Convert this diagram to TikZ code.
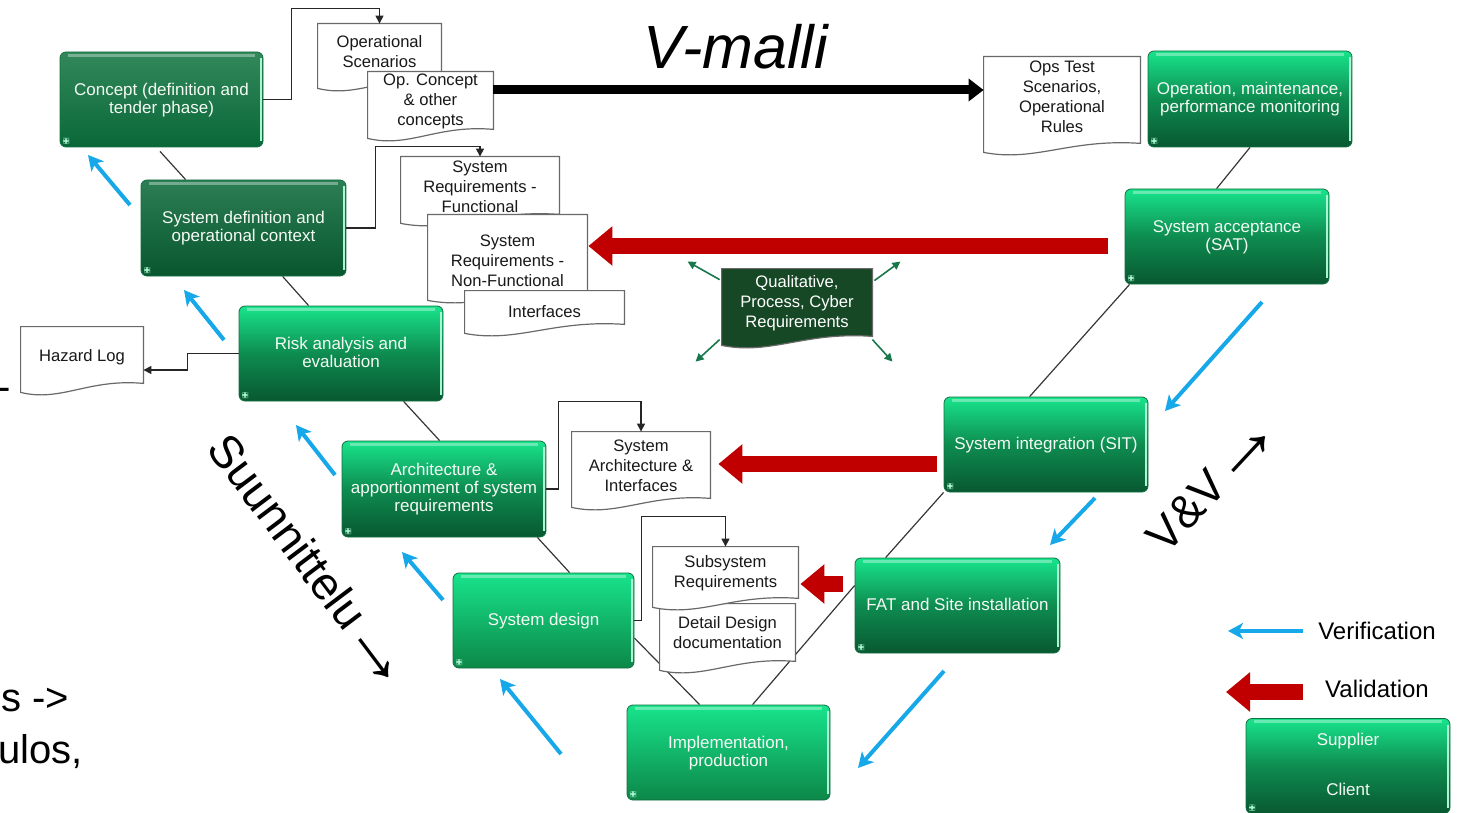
\documentclass[tikz,border=0pt]{standalone}
\usepackage{fontspec}
\setmainfont{Liberation Sans}
\usetikzlibrary{arrows.meta,calc,backgrounds}
\definecolor{vred}{RGB}{192,0,0}
\definecolor{vblue}{RGB}{22,168,232}
\definecolor{gtop}{RGB}{24,228,140}
\definecolor{gmid}{RGB}{14,140,80}
\definecolor{gbot}{RGB}{8,88,48}
\definecolor{glow}{RGB}{12,135,72}
\definecolor{cdtop}{RGB}{50,136,90}
\definecolor{cdbot}{RGB}{10,104,56}
\definecolor{sdtop}{RGB}{44,126,84}
\definecolor{sdbot}{RGB}{8,86,46}
\definecolor{gedge}{RGB}{20,110,65}
\definecolor{gshine}{RGB}{170,245,210}
\definecolor{boxtext}{RGB}{245,250,245}
\definecolor{qfill}{RGB}{22,72,38}
\definecolor{qarr}{RGB}{25,120,75}
\definecolor{docline}{RGB}{105,105,105}
\definecolor{vlinec}{RGB}{55,55,55}
\newcommand\bxfont{\fontsize{8.5}{9}\selectfont}
\newcommand\dcfont{\fontsize{8.3}{10}\selectfont}
\newcommand\bigarrow{\raisebox{-2.5pt}{\fontsize{40}{40}\selectfont →}}
\newcommand\docbox[8]{%
  \node[docframe, minimum width=#5, minimum height=#6] (#1) at (#3,#4) {};
  \path[#2] (#1.north west) -- (#1.north east) -- ([yshift=4.5pt]#1.south east)
    .. controls ($(#1.south west)!0.55!(#1.south east)+(0,7pt)$) and ($(#1.south west)!0.33!(#1.south east)+(0,-5pt)$) .. (#1.south west) -- cycle;
  \node[#2T] (#1-t) at (#3,#7) {#8};
}
\begin{document}
\begin{tikzpicture}[x=0.5pt,y=-0.5pt,
  gbase/.style={rounded corners=3pt, draw=gedge, line width=0.4pt, text=boxtext, align=center,
    font=\bxfont, inner sep=2pt, minimum width=102pt, minimum height=47.5pt, text depth=1.2pt,
    path picture={
      \draw[gshine, line width=1pt] ([xshift=-1.2pt,yshift=-3pt]path picture bounding box.north east) -- ([xshift=-1.2pt,yshift=3pt]path picture bounding box.south east);
      \draw[white, opacity=0.35, line width=1.5pt] ([shift={(4pt,-1.6pt)}]path picture bounding box.north west) -- ([shift={(-4pt,-1.6pt)}]path picture bounding box.north east);
      \fill[gshine] ([shift={(1.5pt,1.5pt)}]path picture bounding box.south west) rectangle ++(3pt,3pt);
    }},
  gbright/.style={gbase, top color=gtop, bottom color=gbot, middle color=gmid},
  glight/.style={gbase, top color=gtop, bottom color=glow, middle color=gtop!50!glow},
  gconcept/.style={gbase, top color=cdtop, bottom color=cdbot},
  gsysdef/.style={gbase, top color=sdtop, bottom color=sdbot},
  docframe/.style={draw=none, fill=none, inner sep=0pt, rectangle},
  doc/.style={draw=docline, line width=0.6pt, fill=white},
  docT/.style={font=\dcfont, align=center, text=black!90, inner sep=0pt},
  qdoc/.style={draw=docline, line width=0.6pt, fill=qfill},
  qdocT/.style={font=\dcfont, align=center, text=white, inner sep=0pt},
  vlink/.style={draw=vlinec, line width=0.6pt},
  elbow/.style={draw=black!85, line width=0.6pt, -{Triangle[length=4pt,width=4pt]}},
  varrow/.style={draw=vblue, line width=2pt, -{Stealth[length=7.5pt,width=8pt,inset=2pt]}},
  redarrow/.style={draw=vred, line width=8pt, -{Triangle[length=12pt,width=19pt]}},
  blkarrow/.style={draw=black, line width=4.5pt, -{Triangle[length=7.5pt,width=11pt]}},
  qarrow/.style={draw=qarr, line width=0.8pt, -{Triangle[length=4pt,width=4pt]}},
  bigtext/.style={inner sep=0pt, text=black}
]
\useasboundingbox (0,0) rectangle (1463,813);

% ---------- green process boxes ----------
\node[gconcept, minimum width=101.5pt] (concept) at (161.5,99.5) {Concept (definition and\\tender phase)};
\node[gsysdef, minimum width=102.5pt, minimum height=48pt] (sysdef) at (243.5,228) {System definition and\\operational context};
\node[gbright] (risk) at (341,353.5) {Risk analysis and\\evaluation};
\node[gbright, minimum height=48pt] (arch) at (444,489) {Architecture \&\\apportionment of system\\requirements};
\node[glight, minimum width=90.5pt] (sysdes) at (543.5,620.5) {System design};
\node[glight, minimum width=101.5pt] (impl) at (728.5,752.5) {Implementation,\\production};
\node[gbright, minimum width=102.5pt] (fat) at (957.5,605.5) {FAT and Site installation};
\node[gbright] (sit) at (1046,444.5) {System integration (SIT)};
\node[gbright] (sat) at (1227,236.5) {System acceptance\\(SAT)};
\node[gbright, minimum height=48pt] (op) at (1250,99) {Operation, maintenance,\\performance monitoring};
\node[gbright] (legend) at (1348,766) {Supplier\\[16pt]Client};

% ---------- V lines (behind) ----------
\begin{scope}[on background layer]
\draw[vlink] ([xshift=-0.75pt,yshift=-2pt]concept.south) -- ([xshift=22.5pt]sysdef.north west);
\draw[vlink] ([xshift=71pt]sysdef.south west) -- ([xshift=35pt]risk.north west);
\draw[vlink] ([xshift=82.5pt]risk.south west) -- ([xshift=49pt]arch.north west);
\draw[vlink] ([xshift=-4.5pt]arch.south east) -- ([xshift=58.5pt]sysdes.north west);
\draw[vlink] ([yshift=-8.75pt]sysdes.east) -- ([xshift=36.5pt]impl.north west);
\draw[vlink] ([xshift=63pt]impl.north west) -- ([yshift=10pt]fat.west);
\draw[vlink] ([xshift=15.5pt]fat.north west) -- (sit.south west);
\draw[vlink] ([xshift=43pt]sit.north west) -- ([xshift=2.5pt]sat.south west);
\draw[vlink] ([xshift=46pt]sat.north west) -- (op.south);
\end{scope}

% ---------- documents ----------
\docbox{opscen}{doc}{379.5}{56}{61.5pt}{32pt}{52}{Operational\\Scenarios}
\docbox{opcon}{doc}{430.5}{105}{62.5pt}{33pt}{101}{Op. Concept\\\& other\\concepts}
\docbox{sysrf}{doc}{480}{190}{79pt}{33pt}{187}{System\\Requirements -\\Functional}
\docbox{sysrnf}{doc}{507.5}{257.5}{79.5pt}{42.5pt}{261}{System\\Requirements -\\Non-Functional}
\docbox{interf}{doc}{544.5}{312}{79.5pt}{21pt}{312}{Interfaces}
\docbox{hazard}{doc}{82}{359.5}{61pt}{32.5pt}{357}{Hazard Log}
\docbox{opstest}{doc}{1062}{104.5}{78pt}{47.5pt}{97}{Ops Test\\Scenarios,\\Operational\\Rules}
\docbox{sysarch}{doc}{641}{469.5}{69pt}{37.5pt}{466}{System\\Architecture \&\\Interfaces}
\docbox{detail}{doc}{727.5}{637}{67.5pt}{33pt}{633}{Detail Design\\documentation}
\docbox{subsys}{doc}{725.5}{577}{72.5pt}{30pt}{573}{Subsystem\\Requirements}
\docbox{qual}{qdoc}{797}{307}{75pt}{38pt}{303}{Qualitative,\\Process, Cyber\\Requirements}

% ---------- elbow connectors ----------
\draw[elbow] (concept.east) -- ++(28,0) |- ($(opscen.north)+(0,-15)$) -- (opscen.north);
\draw[elbow] (sysdef.east) -- ++(29,0) |- ($(sysrf.north)+(0,-10)$) -- (sysrf.north);
\draw[elbow] (risk.west) -- ++(-51,0) |- ($(hazard.east)+(0,10.5)$);
\draw[elbow] (arch.east) -- ++(12,0) |- ($(sysarch.north)+(0,-30)$) -- (sysarch.north);
\draw[elbow] (sysdes.east) -- ++(7,0) |- ($(subsys.north)+(0,-30)$) -- (subsys.north);

% ---------- black arrow ----------
\draw[blkarrow] ([yshift=7.5pt]opcon.east) -- ([yshift=7.5pt]opcon.east -| opstest.west);

% ---------- red validation arrows ----------
\coordinate (r1s) at (1108,246);
\coordinate (r2s) at (937,464);
\coordinate (r3s) at (843,584);
\draw[redarrow] (r1s) -- ($(r1s -| sysrnf.east)+(1,0)$);
\draw[redarrow] (r2s) -- ($(r2s -| sysarch.east)+(8,0)$);
\draw[redarrow] (r3s) -- ($(r3s -| subsys.east)+(2,0)$);

% ---------- qualitative arrows ----------
\draw[qarrow] ($(qual.north west)+(-2,11)$) -- ($(qual.north west)+(-34,-7)$);
\draw[qarrow] ($(qual.north east)+(2,12)$) -- ($(qual.north east)+(28,-7)$);
\draw[qarrow] ($(qual.north west)+(-2,71)$) -- ($(qual.north west)+(-26,93)$);
\draw[qarrow] ($(qual.north east)+(0,71)$) -- ($(qual.north east)+(20,93)$);

% ---------- blue verification arrows ----------
\coordinate (b1s) at (130,205);  \coordinate (b1e) at (88,155);
\coordinate (b2s) at (224,340);  \coordinate (b2e) at (184,290);
\coordinate (b3s) at (335,475);  \coordinate (b3e) at (296,425);
\coordinate (b4s) at (443,600);  \coordinate (b4e) at (402,552);
\coordinate (b5s) at (561,754);  \coordinate (b5e) at (500,679);
\coordinate (b6s) at (1262,302); \coordinate (b6e) at (1165,411);
\coordinate (b7s) at (1095,498); \coordinate (b7e) at (1050,545);
\coordinate (b8s) at (944,671);  \coordinate (b8e) at (858,768);
\foreach \i in {1,...,8} {\draw[varrow] (b\i s) -- (b\i e);}

% ---------- legend ----------
\coordinate (lv1) at (1303,631); \coordinate (lv2) at (1228,631);
\draw[varrow] (lv1) -- (lv2);
\node[bigtext, font=\fontsize{12}{14}\selectfont] (lvt) at (1377,631) {Verification};
\coordinate (lr1) at (1303,692); \coordinate (lr2) at (1226,692);
\draw[redarrow] (lr1) -- (lr2);
\node[bigtext, font=\fontsize{12}{14}\selectfont] (lrt) at (1377,689) {Validation};

% ---------- titles ----------
\node[bigtext, font=\fontsize{30.5}{34}\selectfont\itshape] (title) at (736,47) {V-malli};
\node[bigtext, font=\fontsize{23}{26}\selectfont, rotate=-53] (suun) at (310,564) {Suunnittelu\hspace{-1pt}\bigarrow};
\node[bigtext, font=\fontsize{23}{26}\selectfont, rotate=47] (vv) at (1215,484) {V\&V\hspace{-1pt}\bigarrow};

% ---------- cut-off text at left ----------
\node[bigtext, anchor=base east, font=\fontsize{20}{24}\selectfont] (frag1) at (11,400) {-};
\node[bigtext, anchor=west, font=\fontsize{20}{24}\selectfont] (frag2) at (1,700) {s ->};
\node[bigtext, anchor=west, font=\fontsize{20}{24}\selectfont] (frag3) at (-2,752) {ulos,};
\end{tikzpicture}
\end{document}
